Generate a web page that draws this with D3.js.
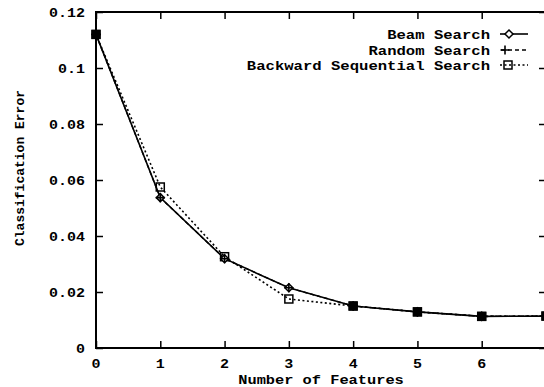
<!DOCTYPE html>
<html>
<head>
<meta charset="utf-8">
<script src="https://cdn.jsdelivr.net/npm/d3@7"></script>
<style>
  body { margin: 0; background: #fff; }
  text { font-family: "Liberation Mono", "DejaVu Sans Mono", monospace; font-weight: bold; font-size: 13px; fill: #000; }
</style>
</head>
<body>
<div id="chart"></div>
<script>
// data
const features = [0, 1, 2, 3, 4, 5, 6, 7];
const beamSearch = [0.112, 0.0537, 0.0319, 0.0215, 0.0150, 0.0129, 0.0113, 0.0114];
const randomSearch = [0.112, 0.0537, 0.0319, 0.0215, 0.0150, 0.0129, 0.0113, 0.0114];
const backwardSearch = [0.112, 0.0575, 0.0326, 0.0175, 0.0150, 0.0129, 0.0113, 0.0114];
const yTicks = [0, 0.02, 0.04, 0.06, 0.08, 0.1, 0.12];
const xTicks = [0, 1, 2, 3, 4, 5, 6];
const seriesNames = ["Beam Search", "Random Search", "Backward Sequential Search"];

let width = 544, height = 387;
let padL = 96, padR = 546, padT = 12, padB = 348;
let sx = 1.2; // horizontal text stretch

let svg = d3.select("#chart").append("svg")
  .attr("width", width).attr("height", height);

let x = d3.scaleLinear().domain([0, 7]).range([padL, padR]);
let y = d3.scaleLinear().domain([0, 0.12]).range([padB, padT]);

// frame
svg.append("rect")
  .attr("x", padL).attr("y", padT)
  .attr("width", padR - padL).attr("height", padB - padT)
  .attr("fill", "none").attr("stroke", "#000").attr("stroke-width", 2);

// inward ticks on all four sides
let tickLen = 7;
svg.append("g").attr("transform", "translate(0," + padB + ")")
  .call(d3.axisBottom(x).tickValues(xTicks).tickSize(-tickLen).tickFormat(""))
  .call(g => g.select(".domain").remove());
svg.append("g").attr("transform", "translate(0," + padT + ")")
  .call(d3.axisTop(x).tickValues(xTicks).tickSize(-tickLen).tickFormat(""))
  .call(g => g.select(".domain").remove());
svg.append("g").attr("transform", "translate(" + padL + ",0)")
  .call(d3.axisLeft(y).tickValues(yTicks).tickSize(-tickLen).tickFormat(""))
  .call(g => g.select(".domain").remove());
svg.append("g").attr("transform", "translate(" + padR + ",0)")
  .call(d3.axisRight(y).tickValues(yTicks).tickSize(-tickLen).tickFormat(""))
  .call(g => g.select(".domain").remove());
svg.selectAll(".tick line").attr("stroke", "#000").attr("stroke-width", 1.5);

// tick labels
svg.selectAll(".ylab").data(yTicks).enter().append("text")
  .attr("transform", d => "translate(85," + (y(d) + 5) + ") scale(" + sx + ",1)")
  .attr("text-anchor", "end")
  .style("font-size", "12.5px")
  .text(d => d3.format("")(d));

svg.selectAll(".xlab").data(xTicks).enter().append("text")
  .attr("transform", d => "translate(" + x(d) + ",368) scale(" + sx + ",1)")
  .attr("text-anchor", "middle")
  .style("font-size", "12.5px")
  .text(d => d);

// axis titles
svg.append("text")
  .attr("transform", "translate(" + ((padL + padR) / 2) + ",384) scale(" + 1.18 + ",1)")
  .attr("text-anchor", "middle")
  .text("Number of Features");

svg.append("text")
  .attr("transform", "translate(24,168) rotate(-90)")
  .attr("text-anchor", "middle")
  .text("Classification Error");

// lines
let lineOf = vals => d3.line()
  .x((d, i) => x(features[i]))
  .y(d => y(d))(vals);

let plot = svg.append("g");

plot.append("path").attr("d", lineOf(backwardSearch))
  .attr("fill", "none").attr("stroke", "#000").attr("stroke-width", 1.6)
  .attr("stroke-dasharray", "2,2.5");
plot.append("path").attr("d", lineOf(randomSearch))
  .attr("fill", "none").attr("stroke", "#000").attr("stroke-width", 1.4)
  .attr("stroke-dasharray", "4,3");
plot.append("path").attr("d", lineOf(beamSearch))
  .attr("fill", "none").attr("stroke", "#000").attr("stroke-width", 1.6);

// markers
let diamond = (g, cx, cy) => g.append("path")
  .attr("d", "M" + cx + "," + (cy - 4) + "L" + (cx + 4) + "," + cy + "L" + cx + "," + (cy + 4) + "L" + (cx - 4) + "," + cy + "Z")
  .attr("fill", "#fff").attr("stroke", "#000").attr("stroke-width", 1.5);
let plus = (g, cx, cy) => g.append("path")
  .attr("d", "M" + (cx - 4.5) + "," + cy + "H" + (cx + 4.5) + "M" + cx + "," + (cy - 4.5) + "V" + (cy + 4.5))
  .attr("stroke", "#000").attr("stroke-width", 1.6);
let square = (g, cx, cy) => g.append("rect")
  .attr("x", cx - 4).attr("y", cy - 4).attr("width", 8).attr("height", 8)
  .attr("fill", "none").attr("stroke", "#000").attr("stroke-width", 1.5);

backwardSearch.forEach((v, i) => square(plot, x(features[i]), y(v)));
beamSearch.forEach((v, i) => diamond(plot, x(features[i]), y(v)));
randomSearch.forEach((v, i) => plus(plot, x(features[i]), y(v)));

// points where all three overlap look like filled squares
features.forEach((f, i) => {
  if (beamSearch[i] === backwardSearch[i]) {
    plot.append("rect")
      .attr("x", x(f) - 4.5).attr("y", y(beamSearch[i]) - 4.5)
      .attr("width", 9).attr("height", 9).attr("fill", "#000");
  }
});

// legend
let legendY = [34, 50, 65];
let legend = svg.append("g");
seriesNames.forEach((name, i) => {
  legend.append("text")
    .attr("transform", "translate(490," + (legendY[i] + 4.5) + ") scale(" + sx + ",1)")
    .attr("text-anchor", "end")
    .text(name);
});
legend.append("line").attr("x1", 500).attr("x2", 528).attr("y1", legendY[0]).attr("y2", legendY[0])
  .attr("stroke", "#000").attr("stroke-width", 1.6);
diamond(legend, 509, legendY[0]);
legend.append("line").attr("x1", 500).attr("x2", 528).attr("y1", legendY[1]).attr("y2", legendY[1])
  .attr("stroke", "#000").attr("stroke-width", 1.4).attr("stroke-dasharray", "4,3").attr("stroke-dashoffset", -1);
plus(legend, 505, legendY[1]);
legend.append("line").attr("x1", 500).attr("x2", 528).attr("y1", legendY[2]).attr("y2", legendY[2])
  .attr("stroke", "#000").attr("stroke-width", 1.6).attr("stroke-dasharray", "2,2.5");
square(legend, 508, legendY[2]);
</script>
</body>
</html>
